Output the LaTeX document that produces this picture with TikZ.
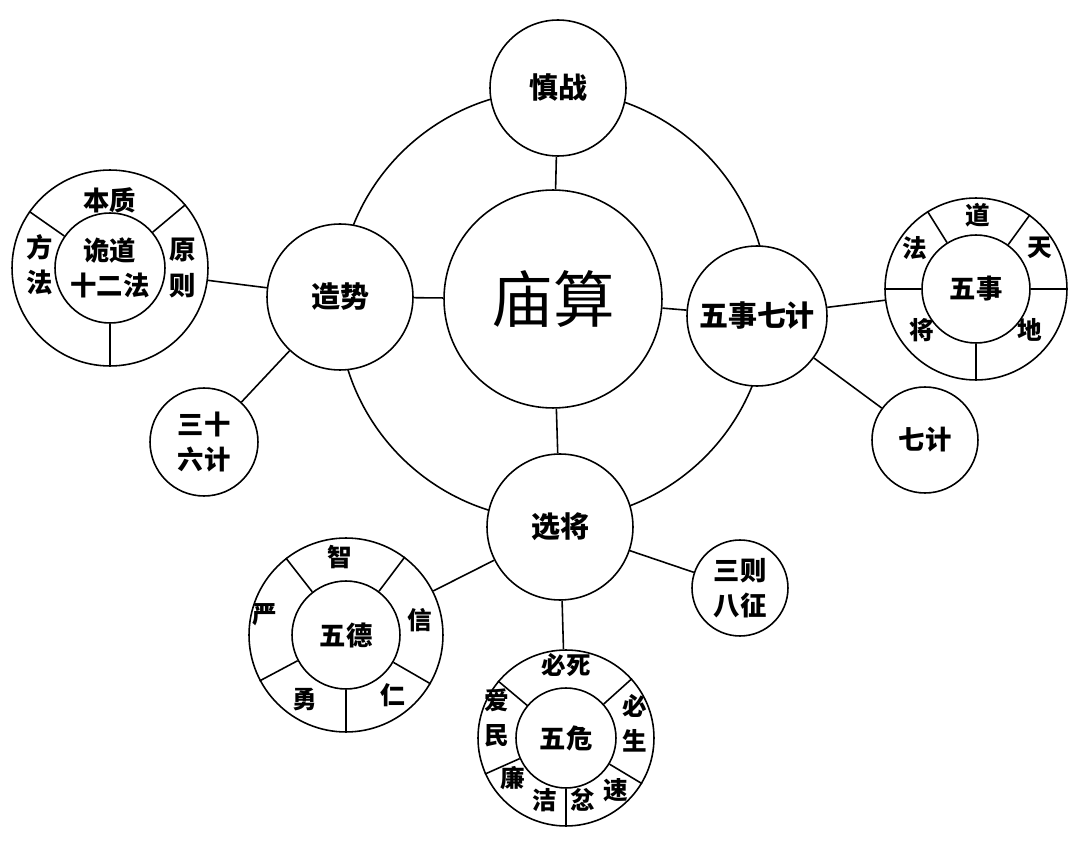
\documentclass[tikz,border=0pt]{standalone}
\usepackage{fontspec}
\newfontfamily\cjk{Noto Sans CJK SC}
\tikzset{
  bubble/.style={draw,circle,fill=white,inner sep=0pt,line width=0.9pt},
  txt/.style={font=\cjk\bfseries\fontsize{15}{20}\selectfont,align=center},
  small/.style={font=\cjk\bfseries\fontsize{14}{20}\selectfont,align=center},
  big/.style={font=\cjk\bfseries\fontsize{16.5}{20}\selectfont,align=center},
  link/.style={line width=0.9pt},
}
\begin{document}
\begin{tikzpicture}[x=0.02cm,y=0.02cm]
  \useasboundingbox (0,0) rectangle (1080,850);
  \draw[link] (553,545) circle[radius=4.3cm];

  % centre and the four on the ring
  \node[bubble,minimum size=4.36cm,font=\cjk\fontsize{35}{40}\selectfont] (miao) at (553,551) {庙算};
  \node[bubble,minimum size=2.72cm,big] (shenzhan) at (558,762) {慎战};
  \node[bubble,minimum size=2.92cm,big] (zaoshi) at (340,553) {造势};
  \node[bubble,minimum size=2.8cm,big] (wsqj) at (757,534) {五事七计};
  \node[bubble,minimum size=2.92cm,big] (xuanjiang) at (560,323) {选将};

  \draw[link] (shenzhan) -- (miao);
  \draw[link] (zaoshi) -- (miao);
  \draw[link] (miao) -- (wsqj);
  \draw[link] (miao) -- (xuanjiang);

  % left side
  \node[bubble,minimum size=3.92cm] (gdout) at (110,582) {};
  \node[bubble,minimum size=2.2cm,txt] (gdin) at (110,582) {诡道\\十二法};
  \foreach \a in {40,145,270}
    \draw[link] (gdin.\a) -- (gdout.\a);
  \node[txt] (benzhi) at (110,650) {本质};
  \node[txt] (fangfa) at (40,585) {方\\法};
  \node[txt] (yuanze) at (183,582) {原\\则};
  \node[bubble,minimum size=2.16cm,txt] (sanshiliu) at (204,408) {三十\\六计};
  \draw[link] (gdout) -- (zaoshi);
  \draw[link] (sanshiliu) -- (zaoshi);

  % right side
  \node[bubble,minimum size=3.64cm] (wsout) at (976,561) {};
  \node[bubble,minimum size=2.16cm,txt] (wsin) at (976,561) {五事};
  \foreach \a in {0,54,122,180,270}
    \draw[link] (wsin.\a) -- (wsout.\a);
  \node[small] (dao) at (978,635) {道};
  \node[small] (tian) at (1040,602) {天};
  \node[small] (fa) at (915,602) {法};
  \node[small] (jiang) at (922,520) {将};
  \node[small] (di) at (1030,520) {地};
  \node[bubble,minimum size=2.12cm,txt] (qiji) at (925,410) {七计};
  \draw[link] (wsqj) -- (wsout);
  \draw[link] (wsqj) -- (qiji);

  % bottom
  \node[bubble,minimum size=3.88cm] (wdout) at (346,215) {};
  \node[bubble,minimum size=2.16cm,txt] (wdin) at (346,215) {五德};
  \foreach \a in {53,128,208,270,330}
    \draw[link] (wdin.\a) -- (wdout.\a);
  \node[small] (zhi) at (340,293) {智};
  \node[small] (xin) at (420,230) {信};
  \node[small] (ren) at (393,155) {仁};
  \node[small] (yong) at (305,150) {勇};
  \node[small] (yan) at (265,235) {严};

  \node[bubble,minimum size=3.52cm] (wwout) at (566,112) {};
  \node[bubble,minimum size=2.0cm,txt] (wwin) at (566,112) {五危};
  \foreach \a in {42,140,204,270,329}
    \draw[link] (wwin.\a) -- (wwout.\a);
  \node[small] (bisi) at (566,185) {必死};
  \node[small] (aimin) at (497,132) {爱\\民};
  \node[small] (bisheng) at (635,127) {必\\生};
  \node[small] (lian) at (513,72) {廉};
  \node[small] (jie) at (545,50) {洁};
  \node[small] (fen) at (583,50) {忿};
  \node[small] (su) at (616,60) {速};

  \node[bubble,minimum size=1.92cm,txt] (sanze) at (740,262) {三则\\八征};
  \draw[link] (xuanjiang) -- (wdout);
  \draw[link] (xuanjiang) -- (sanze);
  \draw[link] (xuanjiang) -- (wwout);
\end{tikzpicture}
\end{document}
